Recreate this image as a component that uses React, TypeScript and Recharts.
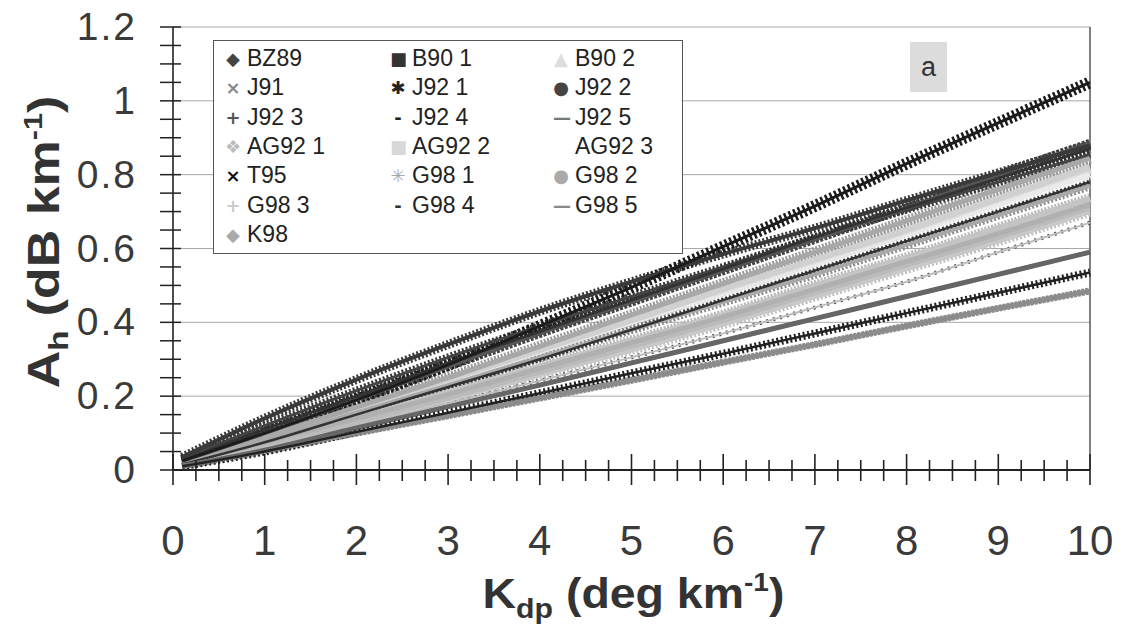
import { LineChart, Line, XAxis, YAxis, ReferenceLine } from "recharts";

const KDP = [0.1, 1, 2, 3, 4, 5, 6, 7, 8, 9, 10];

const BZ89 = [0.035, 0.14, 0.245, 0.34, 0.43, 0.51, 0.585, 0.655, 0.73, 0.805, 0.88];
const B90_1 = [0.03, 0.12, 0.215, 0.305, 0.39, 0.47, 0.55, 0.63, 0.705, 0.78, 0.855];
const B90_2 = [0.02, 0.085, 0.165, 0.245, 0.325, 0.405, 0.485, 0.565, 0.645, 0.73, 0.815];
const J91 = [0.015, 0.08, 0.155, 0.23, 0.305, 0.38, 0.455, 0.53, 0.61, 0.69, 0.77];
const J92_1 = [0.025, 0.1, 0.19, 0.285, 0.39, 0.495, 0.605, 0.715, 0.83, 0.94, 1.05];
const J92_2 = [0.025, 0.1, 0.19, 0.28, 0.37, 0.455, 0.54, 0.625, 0.71, 0.8, 0.885];
const J92_3 = [0.01, 0.05, 0.103, 0.155, 0.208, 0.262, 0.315, 0.37, 0.425, 0.48, 0.535];
const J92_4 = [0.015, 0.075, 0.15, 0.225, 0.3, 0.38, 0.46, 0.54, 0.62, 0.7, 0.78];
const J92_5 = [0.01, 0.055, 0.115, 0.172, 0.23, 0.29, 0.35, 0.41, 0.47, 0.53, 0.59];
const AG92_1 = [0.015, 0.07, 0.14, 0.21, 0.28, 0.35, 0.42, 0.5, 0.575, 0.655, 0.735];
const AG92_2 = [0.015, 0.085, 0.165, 0.245, 0.325, 0.405, 0.49, 0.57, 0.65, 0.735, 0.82];
const AG92_3 = [0.015, 0.08, 0.16, 0.24, 0.32, 0.4, 0.48, 0.56, 0.64, 0.72, 0.8];
const T95 = [0.025, 0.11, 0.2, 0.29, 0.375, 0.46, 0.545, 0.63, 0.71, 0.79, 0.87];
const G98_1 = [0.015, 0.065, 0.13, 0.195, 0.265, 0.335, 0.405, 0.48, 0.555, 0.63, 0.71];
const G98_2 = [0.02, 0.09, 0.17, 0.25, 0.335, 0.42, 0.505, 0.59, 0.675, 0.76, 0.845];
const G98_3 = [0.015, 0.06, 0.125, 0.19, 0.258, 0.325, 0.395, 0.47, 0.545, 0.62, 0.7];
const G98_4 = [0.01, 0.06, 0.12, 0.18, 0.242, 0.305, 0.37, 0.44, 0.51, 0.59, 0.67];
const G98_5 = [0.01, 0.052, 0.1, 0.147, 0.195, 0.243, 0.292, 0.34, 0.39, 0.438, 0.485];
const K98 = [0.02, 0.075, 0.14, 0.205, 0.275, 0.345, 0.415, 0.49, 0.565, 0.64, 0.72];

const X_MAJOR = [0, 1, 2, 3, 4, 5, 6, 7, 8, 9, 10];
const Y_MAJOR = [0, 0.2, 0.4, 0.6, 0.8, 1, 1.2];
const Y_LABELS = ["0", "0.2", "0.4", "0.6", "0.8", "1", "1.2"];

type Style = { name: string; values: number[]; color: string; width: number; dash?: string; core?: string; coreWidth?: number; mark: string; markColor: string };

// legend order (row by row, three columns)
const SERIES: Style[] = [
	{ name: "BZ89", values: BZ89, color: "#3a3a3a", width: 9, dash: "2 2", core: "#3a3a3a", coreWidth: 4, mark: "◆", markColor: "#444" },
	{ name: "B90 1", values: B90_1, color: "#383838", width: 8, dash: "2 2", core: "#444", coreWidth: 3, mark: "■", markColor: "#333" },
	{ name: "B90 2", values: B90_2, color: "#d6d6d6", width: 10, dash: "2 1.5", core: "#dedede", coreWidth: 5, mark: "▲", markColor: "#ddd" },
	{ name: "J91", values: J91, color: "#8c8c8c", width: 9, dash: "2 2", core: "#a8a8a8", coreWidth: 4, mark: "×", markColor: "#888" },
	{ name: "J92 1", values: J92_1, color: "#1c1c1c", width: 12, dash: "2.5 2.5", core: "#1c1c1c", coreWidth: 3, mark: "✱", markColor: "#222" },
	{ name: "J92 2", values: J92_2, color: "#444", width: 9, dash: "3 1.5", core: "#555", coreWidth: 4, mark: "●", markColor: "#444" },
	{ name: "J92 3", values: J92_3, color: "#222", width: 8, dash: "2 2.5", core: "#222", coreWidth: 2.5, mark: "+", markColor: "#555" },
	{ name: "J92 4", values: J92_4, color: "#333", width: 5, dash: "2 2", core: "#333", coreWidth: 2.5, mark: "-", markColor: "#222" },
	{ name: "J92 5", values: J92_5, color: "#666", width: 5, core: "#666", coreWidth: 4, mark: "—", markColor: "#777" },
	{ name: "AG92 1", values: AG92_1, color: "#b8b8b8", width: 11, dash: "2 1.5", core: "#c4c4c4", coreWidth: 6, mark: "❖", markColor: "#bbb" },
	{ name: "AG92 2", values: AG92_2, color: "#c8c8c8", width: 11, dash: "2 1.5", core: "#d0d0d0", coreWidth: 6, mark: "■", markColor: "#d8d8d8" },
	{ name: "AG92 3", values: AG92_3, color: "#e2e2e2", width: 9, dash: "2 2", core: "#eaeaea", coreWidth: 5, mark: "", markColor: "#fff" },
	{ name: "T95", values: T95, color: "#2a2a2a", width: 8, dash: "2 2", core: "#333", coreWidth: 3, mark: "×", markColor: "#111" },
	{ name: "G98 1", values: G98_1, color: "#adadad", width: 10, dash: "2 2", core: "#bbb", coreWidth: 5, mark: "✳", markColor: "#aaa" },
	{ name: "G98 2", values: G98_2, color: "#9a9a9a", width: 11, dash: "2 1.5", core: "#a8a8a8", coreWidth: 5, mark: "●", markColor: "#aaa" },
	{ name: "G98 3", values: G98_3, color: "#c0c0c0", width: 10, dash: "2 2", core: "#c8c8c8", coreWidth: 5, mark: "+", markColor: "#ccc" },
	{ name: "G98 4", values: G98_4, color: "#555", width: 4, dash: "2 5", core: "#bdbdbd", coreWidth: 2, mark: "-", markColor: "#333" },
	{ name: "G98 5", values: G98_5, color: "#8c8c8c", width: 7, dash: "3 1", core: "#8c8c8c", coreWidth: 5, mark: "—", markColor: "#888" },
	{ name: "K98", values: K98, color: "#a8a8a8", width: 10, dash: "2 2", core: "#b0b0b0", coreWidth: 5, mark: "◆", markColor: "#aaa" },
];

// light bands underneath, dark ones on top
const DRAW_ORDER = ["AG92 3", "B90 2", "AG92 2", "G98 3", "AG92 1", "G98 1", "K98", "G98 2", "J91", "G98 4", "J92 4", "G98 5", "J92 5", "J92 3", "B90 1", "J92 2", "T95", "BZ89", "J92 1"];

const data = KDP.map((k, i) => {
	const row: Record<string, number> = { k };
	SERIES.forEach((s) => {
		row[s.name] = s.values[i];
	});
	return row;
});

const xTicks: number[] = [];
X_MAJOR.forEach((v, i) => {
	xTicks.push(v);
	if (i < X_MAJOR.length - 1) {
		xTicks.push(v + 0.25, v + 0.5, v + 0.75);
	}
});

const yTicks: number[] = [];
Y_MAJOR.forEach((v, i) => {
	yTicks.push(v);
	if (i < Y_MAJOR.length - 1) {
		yTicks.push(+(v + 0.05).toFixed(2), +(v + 0.1).toFixed(2), +(v + 0.15).toFixed(2));
	}
});

const FONT = "'Liberation Sans', Arial, sans-serif";

function XTick(props: any) {
	const { x, y, payload } = props;
	const v = payload.value;
	const major = X_MAJOR.includes(v);
	return (
		<g>
			<line x1={x} x2={x} y1={major ? y - 16 : y - 10} y2={major ? y + 15 : y + 11} stroke="#222" strokeWidth={1.6} />
			{major && (
				<text x={x} y={y + 85} textAnchor="middle" fontSize={42} fontFamily={FONT} fill="#3a3a3a">
					{v}
				</text>
			)}
		</g>
	);
}

function YTick(props: any) {
	const { x, y, payload } = props;
	const idx = Y_MAJOR.findIndex((m) => Math.abs(m - payload.value) < 1e-6);
	return (
		<g>
			<line x1={x - 13} x2={x + 8} y1={y} y2={y} stroke="#222" strokeWidth={1.5} />
			{idx >= 0 && (
				<text x={x - 36} y={y + 13} textAnchor="end" fontSize={39} letterSpacing={2} fontFamily={FONT} fill="#3a3a3a">
					{Y_LABELS[idx]}
				</text>
			)}
		</g>
	);
}

function YTitle(props: any) {
	const { viewBox } = props;
	const cx = viewBox.x + 37;
	const cy = viewBox.y + 215;
	return (
		<text transform={`translate(${cx},${cy}) rotate(-90) scale(1.18,1)`} x={0} y={14} textAnchor="middle" fontSize={44} fontWeight="bold" fontFamily={FONT} fill="#333">
			A
			<tspan fontSize={28} dy={9}>h</tspan>
			<tspan dy={-9}> (dB km</tspan>
			<tspan fontSize={26} dy={-17}>-1</tspan>
			<tspan dy={17}>)</tspan>
		</text>
	);
}

function XTitle(props: any) {
	const { viewBox } = props;
	const cx = viewBox.x + viewBox.width / 2 + 2;
	const by = viewBox.y + 138;
	return (
		<text transform={`translate(${cx},${by}) scale(1.08,1)`} x={0} y={0} textAnchor="middle" fontSize={43} fontWeight="bold" fontFamily={FONT} fill="#333">
			K
			<tspan fontSize={28} dy={10}>dp</tspan>
			<tspan dy={-10}> (deg km</tspan>
			<tspan fontSize={26} dy={-17}>-1</tspan>
			<tspan dy={17}>)</tspan>
		</text>
	);
}

function LegendBox() {
	return (
		<div
			style={{
				position: "absolute",
				left: 205,
				top: 40,
				width: 470,
				height: 214,
				boxSizing: "border-box",
				border: "1.5px solid #555",
				background: "#fff",
				padding: "3px 0 0 11px",
				display: "grid",
				gridTemplateColumns: "165px 163px 130px",
				gridAutoRows: "29.3px",
				fontFamily: FONT,
				fontSize: 23,
				color: "#222",
			}}
		>
			{SERIES.map((s) => (
				<div key={s.name} style={{ display: "flex", alignItems: "center", whiteSpace: "nowrap" }}>
					<span style={{ width: 16, textAlign: "center", color: s.markColor, fontSize: 18, fontFamily: "'DejaVu Sans', sans-serif", fontWeight: "bold" }}>{s.mark}</span>
					<span style={{ marginLeft: 6 }}>{s.name}</span>
				</div>
			))}
		</div>
	);
}

export default function App() {
	const ordered = DRAW_ORDER.map((n) => SERIES.find((s) => s.name === n)!);
	return (
		<div style={{ position: "relative", width: 1113, height: 628, marginTop: -8, background: "#fff" }}>
			<LineChart width={1113} height={628} data={data} margin={{ top: 27, right: 31, left: 0, bottom: 30 }}>
				<XAxis
					dataKey="k"
					type="number"
					domain={[0, 10]}
					ticks={xTicks}
					interval={0}
					tickSize={0}
					tickMargin={0}
					height={128}
					axisLine={{ stroke: "#222", strokeWidth: 2 }}
					tickLine={false}
					tick={(p: any) => <XTick {...p} />}
					label={{ content: (p: any) => <XTitle {...p} /> }}
				/>
				<YAxis
					type="number"
					domain={[0, 1.2]}
					ticks={yTicks}
					interval={0}
					tickSize={0}
					tickMargin={0}
					width={165}
					axisLine={{ stroke: "#222", strokeWidth: 1.6 }}
					tickLine={false}
					tick={(p: any) => <YTick {...p} />}
					label={{ content: (p: any) => <YTitle {...p} /> }}
				/>
				{Y_MAJOR.slice(1).map((v) => (
					<ReferenceLine key={v} y={v} stroke="#a8a8a8" strokeWidth={1} />
				))}
				<ReferenceLine x={10} stroke="#555" strokeWidth={1.5} />
				{ordered.map((s) => (
					<Line
						key={s.name + "-band"}
						dataKey={s.name}
						type="monotone"
						stroke={s.color}
						strokeWidth={s.width}
						strokeDasharray={s.dash}
						dot={false}
						activeDot={false}
						legendType="none"
						isAnimationActive={false}
					/>
				))}
				{ordered.map((s) => (
					<Line
						key={s.name + "-core"}
						dataKey={s.name}
						type="monotone"
						stroke={s.core}
						strokeWidth={s.coreWidth}
						dot={false}
						activeDot={false}
						legendType="none"
						isAnimationActive={false}
					/>
				))}
			</LineChart>
			<LegendBox />
			<div
				style={{
					position: "absolute",
					left: 902,
					top: 42,
					width: 37,
					height: 50,
					background: "#dcdcdc",
					fontFamily: FONT,
					fontSize: 27,
					color: "#333",
					display: "flex",
					alignItems: "center",
					justifyContent: "center",
				}}
			>
				a
			</div>
		</div>
	);
}
